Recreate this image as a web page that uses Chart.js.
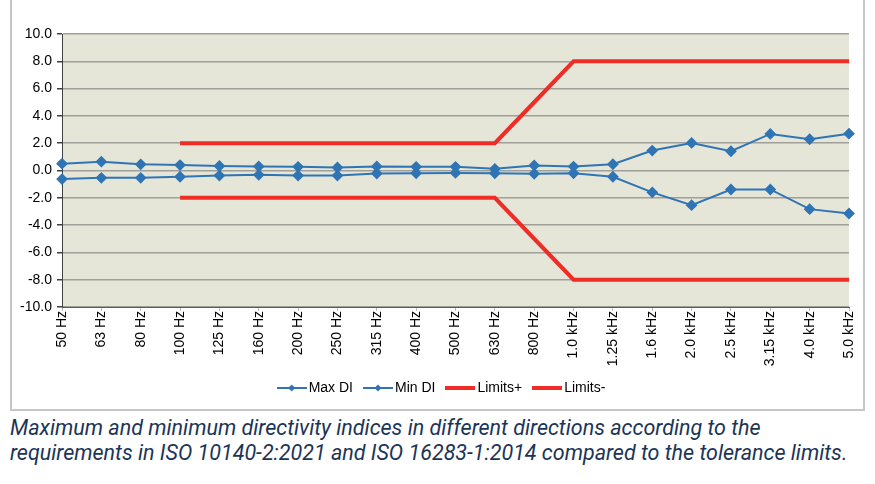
<!DOCTYPE html>
<html>
<head>
<meta charset="utf-8">
<script src="https://cdn.jsdelivr.net/npm/chart.js@4.4.1/dist/chart.umd.min.js"></script>
<style>
    body { margin: 0; background: #fff; width: 875px; height: 484px; position: relative; overflow: hidden; }
    .frame { position: absolute; left: 10px; top: -2px; width: 851px; height: 409px; border: 2px solid #c6c6c6; }
    .chart-box { position: absolute; left: 0; top: 0; width: 875px; height: 410px; }
    .caption { position: absolute; left: 10px; top: 415px; font-family: Roboto, sans-serif; font-style: italic;
        font-size: 21.5px; line-height: 25px; color: #1b3558; white-space: nowrap; }
</style>
</head>
<body>
<div class="frame"></div>
<div class="chart-box"><canvas id="diChart" width="875" height="410"></canvas></div>
<div class="caption">Maximum and minimum directivity indices in different directions according to the<br>requirements in ISO 10140-2:2021 and ISO 16283-1:2014 compared to the tolerance limits.</div>

<script>
const bands = ["50 Hz", "63 Hz", "80 Hz", "100 Hz", "125 Hz", "160 Hz", "200 Hz", "250 Hz", "315 Hz", "400 Hz",
    "500 Hz", "630 Hz", "800 Hz", "1.0 kHz", "1.25 kHz", "1.6 kHz", "2.0 kHz", "2.5 kHz", "3.15 kHz", "4.0 kHz", "5.0 kHz"];

const maxDI = [0.5, 0.65, 0.45, 0.4, 0.33, 0.3, 0.27, 0.22, 0.3, 0.27, 0.27, 0.12, 0.37, 0.29, 0.46, 1.46, 2.02, 1.41, 2.68, 2.29, 2.7];
const minDI = [-0.63, -0.54, -0.54, -0.46, -0.37, -0.32, -0.37, -0.37, -0.22, -0.2, -0.18, -0.2, -0.24, -0.2, -0.46, -1.6, -2.54, -1.39, -1.39, -2.83, -3.15];
const limitsPlus = [null, null, null, 2, 2, 2, 2, 2, 2, 2, 2, 2, 5, 8, 8, 8, 8, 8, 8, 8, 8];
const limitsMinus = [null, null, null, -2, -2, -2, -2, -2, -2, -2, -2, -2, -5, -8, -8, -8, -8, -8, -8, -8, -8];

const yTicks = [-10, -8, -6, -4, -2, 0, 2, 4, 6, 8, 10];

const blue = "#2f75b5";
const red = "#ef2d26";
const axisFont = { family: "'Liberation Sans', Arial, sans-serif", size: 14 };

// legend symbols: a line, with a diamond for the DI series
function legendIcon(color, width, diamond) {
    const c = document.createElement("canvas");
    c.width = 30;
    c.height = 12;
    const ctx = c.getContext("2d");
    ctx.strokeStyle = color;
    ctx.lineWidth = width;
    ctx.beginPath();
    ctx.moveTo(0, 6);
    ctx.lineTo(30, 6);
    ctx.stroke();
    if (diamond) {
        ctx.fillStyle = color;
        ctx.beginPath();
        ctx.moveTo(15, 2.5);
        ctx.lineTo(18.5, 6);
        ctx.lineTo(15, 9.5);
        ctx.lineTo(11.5, 6);
        ctx.closePath();
        ctx.fill();
    }
    return c;
}

const plotBg = {
    id: "plotBg",
    beforeDraw(chart) {
        const a = chart.chartArea;
        chart.ctx.save();
        chart.ctx.fillStyle = "#e5e5d8";
        chart.ctx.fillRect(a.left, a.top, a.right - a.left, a.bottom - a.top);
        chart.ctx.restore();
    }
};

// the legend sits a bit right of the canvas centre
const legendShift = {
    id: "legendShift",
    afterLayout(chart) {
        chart.legend.left += 19;
        chart.legend.right += 19;
    }
};

function diSet(label, data) {
    return {
        label: label,
        data: data,
        borderColor: blue,
        backgroundColor: blue,
        borderWidth: 2,
        pointStyle: "rectRot",
        pointRadius: 4.5,
        pointHoverRadius: 4.5,
        tension: 0
    };
}

function limitSet(label, data) {
    return {
        label: label,
        data: data,
        borderColor: red,
        backgroundColor: red,
        borderWidth: 4,
        pointRadius: 0,
        tension: 0
    };
}

new Chart("diChart", {
    type: "line",
    data: {
        labels: bands,
        datasets: [
            diSet("Max DI", maxDI),
            diSet("Min DI", minDI),
            limitSet("Limits+", limitsPlus),
            limitSet("Limits-", limitsMinus)
        ]
    },
    plugins: [plotBg, legendShift],
    options: {
        responsive: false,
        animation: false,
        events: [],
        layout: {
            padding: { left: 0, right: 26, top: 34, bottom: 5 }
        },
        plugins: {
            tooltip: { enabled: false },
            legend: {
                position: "bottom",
                labels: {
                    usePointStyle: true,
                    pointStyleWidth: 20,
                    padding: 15,
                    color: "#000",
                    font: { family: "'Liberation Sans', Arial, sans-serif", size: 14 },
                    generateLabels(chart) {
                        return chart.data.datasets.map((ds, i) => ({
                            text: ds.label,
                            datasetIndex: i,
                            pointStyle: i < 2 ? legendIcon(blue, 2, true) : legendIcon(red, 4, false),
                            fillStyle: ds.borderColor,
                            strokeStyle: ds.borderColor,
                            lineWidth: 0,
                            fontColor: "#000"
                        }));
                    }
                }
            }
        },
        scales: {
            x: {
                offset: false,
                afterFit(scale) { scale.height = 59; },
                border: { color: "#5a5a5a", width: 1 },
                grid: {
                    drawOnChartArea: false,
                    drawTicks: true,
                    tickLength: 4,
                    tickColor: "#bdbdbd"
                },
                ticks: {
                    autoSkip: false,
                    minRotation: 90,
                    maxRotation: 90,
                    padding: 0,
                    color: "#000",
                    font: axisFont
                }
            },
            y: {
                min: -10,
                max: 10,
                afterFit(scale) { scale.width = 62; },
                border: { color: "#404040", width: 1 },
                grid: {
                    color: (ctx) => (yTicks.includes(ctx.tick.value) ? "#a0a09a" : "#c6c6be"),
                    lineWidth: 1.5,
                    tickLength: 5,
                    tickColor: "#404040"
                },
                ticks: {
                    stepSize: 1,
                    padding: 5,
                    color: "#000",
                    font: axisFont,
                    callback: (v) => (yTicks.includes(v) ? v.toFixed(1) : "")
                }
            }
        }
    }
});
</script>
</body>
</html>
